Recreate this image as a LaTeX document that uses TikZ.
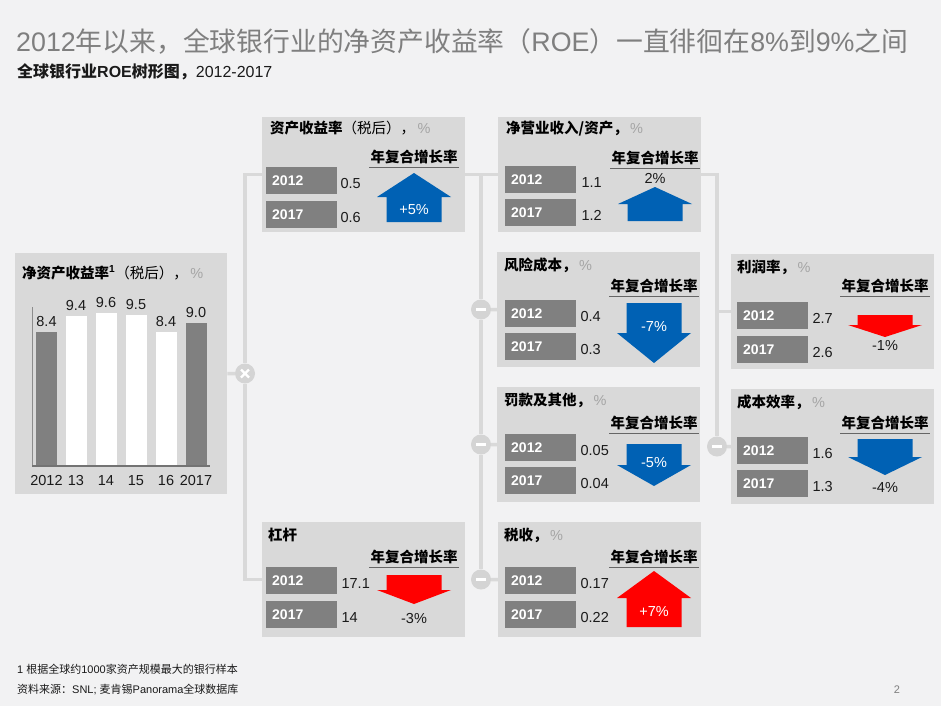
\documentclass[tikz,border=0pt]{standalone}
\usepackage{fontspec}
\setmainfont{Liberation Sans}
\newfontfamily\cjk{Noto Sans CJK SC}
\usetikzlibrary{positioning}
\definecolor{pagebg}{RGB}{242,242,243}
\definecolor{boxgrey}{RGB}{217,217,217}
\definecolor{yeargrey}{RGB}{128,128,128}
\definecolor{linegrey}{RGB}{217,217,217}
\definecolor{opgrey}{RGB}{212,212,212}
\definecolor{mckblue}{RGB}{0,97,180}
\definecolor{mckred}{RGB}{255,0,0}
\definecolor{titlegrey}{RGB}{127,127,127}
\definecolor{pctgrey}{RGB}{165,165,165}
\definecolor{valblack}{RGB}{26,26,26}
\newcommand{\pctsign}{\,{\color{pctgrey}\rmfamily\mdseries\%}}

\begin{document}
\begin{tikzpicture}[x=1pt, y=-1pt,
        metricbox/.style={fill=boxgrey, anchor=north west, minimum width=203pt, minimum height=115pt, inner sep=0pt},
        boxtitle/.style={font=\cjk\bfseries\fontsize{14.5}{17}\selectfont, inner sep=0pt, text height=11pt, text depth=3pt},
        cagrhead/.style={font=\cjk\bfseries\fontsize{14.5}{17}\selectfont, minimum width=90pt, inner xsep=0pt, inner ysep=2pt, text height=11pt, text depth=3pt},
        cagrline/.style={draw=black!60, line width=0.8pt},
        yearbox/.style={fill=yeargrey, text=white, font=\bfseries\fontsize{14}{16}\selectfont, text width=59pt, inner xsep=6pt, minimum height=27pt, text height=10pt, text depth=0pt, align=left},
        valtext/.style={font=\fontsize{14.5}{17}\selectfont, text=valblack, inner sep=0pt, text height=10.4pt, text depth=0pt},
        bar/.style={anchor=south, minimum width=21pt, inner sep=0pt},
        link/.style={draw=linegrey, line width=3.5pt},
        opnode/.style={circle, fill=opgrey, minimum size=20pt, inner sep=0pt},
        minusnode/.style={opnode, path picture={\draw[white, line width=2.6pt] ([xshift=-5pt]path picture bounding box.center) -- ([xshift=5pt]path picture bounding box.center);}},
        timesnode/.style={opnode, path picture={\draw[white, line width=2.4pt] ([shift={(-4pt,-4pt)}]path picture bounding box.center) -- ([shift={(4pt,4pt)}]path picture bounding box.center) ([shift={(-4pt,4pt)}]path picture bounding box.center) -- ([shift={(4pt,-4pt)}]path picture bounding box.center);}},
        footnote/.style={font=\fontsize{11}{13}\selectfont, text=valblack, inner sep=0pt, anchor=west}]
        \useasboundingbox (0,0) rectangle (941,706);
        \fill[pagebg] (0,0) rectangle (941,706);
        \node[inner sep=0pt, anchor=west, text=titlegrey, font=\fontsize{26.8}{30}\selectfont] (title) at (16,41) {2012{\cjk 年以来，全球银行业的净资产收益率（}ROE{\cjk ）一直徘徊在}8\%{\cjk 到}9\%{\cjk 之间}};
        \node[inner sep=0pt, anchor=west, text=valblack, font=\fontsize{16}{18}\selectfont] (subtitle) at (17,72) {{\cjk\bfseries 全球银行业}\textbf{ROE}{\cjk\bfseries 树形图，}2012-2017};

        \node[metricbox, minimum width=212pt, minimum height=241pt] (roe) at (15,253) {};
        \node[boxtitle, below right=14pt and 7pt of roe.north west] (roetitle) {净资产收益率\textsuperscript{\rmfamily 1}{\mdseries （税后），}\pctsign};
        \draw[draw=black!45, line width=0.6pt] (32,307) -- (32,466);
        \node[bar, fill=yeargrey, minimum height=133.6pt] (bar12) at (46.5,466) {};
        \node[bar, fill=white, minimum height=149.5pt] (bar13) at (76,466) {};
        \node[bar, fill=white, minimum height=152.6pt] (bar14) at (106,466) {};
        \node[bar, fill=white, minimum height=151pt] (bar15) at (136,466) {};
        \node[bar, fill=white, minimum height=133.6pt] (bar16) at (166,466) {};
        \node[bar, fill=yeargrey, minimum height=143.1pt] (bar17) at (196,466) {};
        \draw[draw=black!55, line width=2pt] (32,466) -- (210,466);
        \node[valtext, above=5pt of bar12] (bar12v) {8.4};
        \node[valtext, above=5pt of bar13] (bar13v) {9.4};
        \node[valtext, above=5pt of bar14] (bar14v) {9.6};
        \node[valtext, above=5pt of bar15] (bar15v) {9.5};
        \node[valtext, above=5pt of bar16] (bar16v) {8.4};
        \node[valtext, above=5pt of bar17] (bar17v) {9.0};
        \node[valtext, below=9pt of bar12] (bar12y) {2012};
        \node[valtext, below=9pt of bar13] (bar13y) {13};
        \node[valtext, below=9pt of bar14] (bar14y) {14};
        \node[valtext, below=9pt of bar15] (bar15y) {15};
        \node[valtext, below=9pt of bar16] (bar16y) {16};
        \node[valtext, below=9pt of bar17] (bar17y) {2017};

        \node[metricbox] (roa) at (262,117) {};
        \node[boxtitle, below right=5.5pt and 8pt of roa.north west] (roatitle) {资产收益率{\mdseries （税后），}\pctsign};
        \node[cagrhead, below left=32pt and 6pt of roa.north east] (roacagr) {年复合增长率};
        \draw[cagrline] (roacagr.south west) -- (roacagr.south east);
        \node[yearbox, below right=50pt and 4pt of roa.north west] (roa12) {2012};
        \node[yearbox, below=6pt of roa12] (roa17) {2017};
        \node[valtext, right=3pt of roa12, yshift=-3pt] (roa12v) {0.5};
        \node[valtext, right=3pt of roa17, yshift=-3pt] (roa17v) {0.6};
        \fill[mckblue, shift={(roa.north west)}] (124.5,105) -- (124.5,80) -- (115,80) -- (152,56) -- (189,80) -- (179.5,80) -- (179.5,105) -- cycle;
        \node[valtext, text=white] (roapct) at ([shift={(152,92)}]roa.north west) {+5\%};

        \node[metricbox] (netop) at (498,117) {};
        \node[boxtitle, below right=5.5pt and 8pt of netop.north west] (netoptitle) {净营业收入/资产，\pctsign};
        \node[cagrhead, below left=33pt and 1pt of netop.north east] (netopcagr) {年复合增长率};
        \draw[cagrline] (netopcagr.south west) -- (netopcagr.south east);
        \node[yearbox, below right=49pt and 7pt of netop.north west] (netop12) {2012};
        \node[yearbox, below=5pt of netop12] (netop17) {2017};
        \node[valtext, right=5pt of netop12, yshift=-3pt] (netop12v) {1.1};
        \node[valtext, right=5pt of netop17, yshift=-3pt] (netop17v) {1.2};
        \fill[mckblue, shift={(netop.north west)}] (129.5,104) -- (129.5,87) -- (120,87) -- (157,70) -- (194,87) -- (184.5,87) -- (184.5,104) -- cycle;
        \node[valtext] (netoppct) at ([shift={(157,61)}]netop.north west) {2\%};

        \node[metricbox] (risk) at (497,252) {};
        \node[boxtitle, below right=7.5pt and 7pt of risk.north west] (risktitle) {风险成本，\pctsign};
        \node[cagrhead, below left=26pt and 1pt of risk.north east] (riskcagr) {年复合增长率};
        \draw[cagrline] (riskcagr.south west) -- (riskcagr.south east);
        \node[yearbox, below right=48pt and 8pt of risk.north west] (risk12) {2012};
        \node[yearbox, below=5pt of risk12] (risk17) {2017};
        \node[valtext, right=4pt of risk12, yshift=-3pt] (risk12v) {0.4};
        \node[valtext, right=4pt of risk17, yshift=-3pt] (risk17v) {0.3};
        \fill[mckblue, shift={(risk.north west)}] (129.5,51) -- (184.5,51) -- (184.5,81) -- (194,81) -- (157,111) -- (120,81) -- (129.5,81) -- cycle;
        \node[valtext, text=white] (riskpct) at ([shift={(157,74)}]risk.north west) {-7\%};

        \node[metricbox] (fines) at (497,387) {};
        \node[boxtitle, below right=7.5pt and 7pt of fines.north west] (finestitle) {罚款及其他，\pctsign};
        \node[cagrhead, below left=28pt and 1pt of fines.north east] (finescagr) {年复合增长率};
        \draw[cagrline] (finescagr.south west) -- (finescagr.south east);
        \node[yearbox, below right=47pt and 8pt of fines.north west] (fines12) {2012};
        \node[yearbox, below=5pt of fines12] (fines17) {2017};
        \node[valtext, right=4pt of fines12, yshift=-3pt] (fines12v) {0.05};
        \node[valtext, right=4pt of fines17, yshift=-3pt] (fines17v) {0.04};
        \fill[mckblue, shift={(fines.north west)}] (129.5,57) -- (184.5,57) -- (184.5,78) -- (194,78) -- (157,99) -- (120,78) -- (129.5,78) -- cycle;
        \node[valtext, text=white] (finespct) at ([shift={(157,75)}]fines.north west) {-5\%};

        \node[metricbox] (tax) at (498,522) {};
        \node[boxtitle, below right=7.5pt and 6pt of tax.north west] (taxtitle) {税收，\pctsign};
        \node[cagrhead, below left=27pt and 2pt of tax.north east] (taxcagr) {年复合增长率};
        \draw[cagrline] (taxcagr.south west) -- (taxcagr.south east);
        \node[yearbox, below right=45pt and 7pt of tax.north west] (tax12) {2012};
        \node[yearbox, below=6pt of tax12] (tax17) {2017};
        \node[valtext, right=4pt of tax12, yshift=-3pt] (tax12v) {0.17};
        \node[valtext, right=4pt of tax17, yshift=-3pt] (tax17v) {0.22};
        \fill[mckred, shift={(tax.north west)}] (128.5,105) -- (128.5,76) -- (119,76) -- (156,49) -- (193,76) -- (183.5,76) -- (183.5,105) -- cycle;
        \node[valtext, text=white] (taxpct) at ([shift={(156,89)}]tax.north west) {+7\%};

        \node[metricbox] (lev) at (262,522) {};
        \node[boxtitle, below right=7.5pt and 6pt of lev.north west] (levtitle) {杠杆};
        \node[cagrhead, below left=27pt and 6pt of lev.north east] (levcagr) {年复合增长率};
        \draw[cagrline] (levcagr.south west) -- (levcagr.south east);
        \node[yearbox, below right=45pt and 4pt of lev.north west] (lev12) {2012};
        \node[yearbox, below=6pt of lev12] (lev17) {2017};
        \node[valtext, right=4pt of lev12, yshift=-3pt] (lev12v) {17.1};
        \node[valtext, right=4pt of lev17, yshift=-3pt] (lev17v) {14};
        \fill[mckred, shift={(lev.north west)}] (124.5,53) -- (179.5,53) -- (179.5,68) -- (189,68) -- (152,82) -- (115,68) -- (124.5,68) -- cycle;
        \node[valtext] (levpct) at ([shift={(152,96)}]lev.north west) {-3\%};

        \node[metricbox] (margin) at (731,254) {};
        \node[boxtitle, below right=7.5pt and 6pt of margin.north west] (margintitle) {利润率，\pctsign};
        \node[cagrhead, below left=24pt and 4pt of margin.north east] (margincagr) {年复合增长率};
        \draw[cagrline] (margincagr.south west) -- (margincagr.south east);
        \node[yearbox, below right=48pt and 6pt of margin.north west] (margin12) {2012};
        \node[yearbox, below=6pt of margin12] (margin17) {2017};
        \node[valtext, right=4pt of margin12, yshift=-3pt] (margin12v) {2.7};
        \node[valtext, right=4pt of margin17, yshift=-3pt] (margin17v) {2.6};
        \fill[mckred, shift={(margin.north west)}] (126.5,61) -- (181.5,61) -- (181.5,71) -- (191,71) -- (154,83) -- (117,71) -- (126.5,71) -- cycle;
        \node[valtext] (marginpct) at ([shift={(154,91)}]margin.north west) {-1\%};

        \node[metricbox] (costeff) at (731,389) {};
        \node[boxtitle, below right=7.5pt and 6pt of costeff.north west] (costefftitle) {成本效率，\pctsign};
        \node[cagrhead, below left=26pt and 4pt of costeff.north east] (costeffcagr) {年复合增长率};
        \draw[cagrline] (costeffcagr.south west) -- (costeffcagr.south east);
        \node[yearbox, below right=48pt and 6pt of costeff.north west] (costeff12) {2012};
        \node[yearbox, below=5pt of costeff12] (costeff17) {2017};
        \node[valtext, right=4pt of costeff12, yshift=-3pt] (costeff12v) {1.6};
        \node[valtext, right=4pt of costeff17, yshift=-3pt] (costeff17v) {1.3};
        \fill[mckblue, shift={(costeff.north west)}] (126.5,50) -- (181.5,50) -- (181.5,68) -- (191,68) -- (154,86) -- (117,68) -- (126.5,68) -- cycle;
        \node[valtext] (costeffpct) at ([shift={(154,98)}]costeff.north west) {-4\%};

        \node[timesnode] (mult) at (245,373.5) {};
        \node[minusnode] (riskop) at (481,309.5) {};
        \node[minusnode] (finesop) at (481,444.5) {};
        \node[minusnode] (taxop) at (481,579.5) {};
        \node[minusnode] (costop) at (717,446.5) {};
        \draw[link] (roe.east) -- (mult);
        \draw[link] (roa.west) -| (mult);
        \draw[link] (mult) |- (lev.west);
        \draw[link] (roa.east) -- (netop.west);
        \draw[link] (roa.east -| riskop) -- (riskop);
        \draw[link] (riskop) -- (risk.west);
        \draw[link] (riskop) -- (finesop);
        \draw[link] (finesop) -- (fines.west);
        \draw[link] (finesop) -- (taxop);
        \draw[link] (taxop) -- (tax.west);
        \draw[link] (netop.east) -| (costop);
        \draw[link] (margin.west) -| (costop);
        \draw[link] (costop) -- (costeff.west);

        \node[footnote] (note) at (17,669) {1 {\cjk 根据全球约}1000{\cjk 家资产规模最大的银行样本}};
        \node[footnote] (source) at (17,690) {{\cjk 资料来源：}SNL; {\cjk 麦肯锡}Panorama{\cjk 全球数据库}};
        \node[footnote, text=titlegrey, anchor=center] (page) at (897,690) {2};
\end{tikzpicture}
\end{document}
